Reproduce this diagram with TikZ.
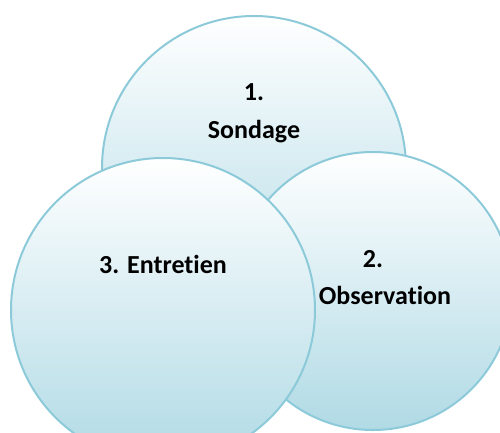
\documentclass[tikz,border=0pt]{standalone}
\usepackage{fontspec}
\setmainfont[Ligatures={NoCommon,NoRare}]{Carlito}
\definecolor{ringblue}{RGB}{140,202,218}
\definecolor{fillblue}{RGB}{176,218,229}
\tikzset{
  bubble/.style={draw=ringblue, line width=2pt, top color=white, bottom color=fillblue},
  label/.style={font=\fontsize{26}{30}\selectfont\bfseries, anchor=base, inner sep=0pt}
}
\begin{document}
\begin{tikzpicture}[x=1pt,y=-1pt]
  \useasboundingbox (0,0) rectangle (500,432);
  \clip (0,0) rectangle (500,432);
  % circles, back to front
  \path[bubble] (254,168) circle (152pt);
  \path[bubble] (373,291) circle (139pt);
  \path[bubble] (163,310) circle (152pt);
  % texts
  \node[label] (sondageNum) at (254,100) {1.};
  \node[label] (sondage) at (254,138) {Sondage};
  \node[label] (observNum) at (373,267) {2.};
  \node[label] (observ) at (385,304) {Observation};
  \node[label] (entretien) at (163,273) {3. Entretien};
\end{tikzpicture}
\end{document}
